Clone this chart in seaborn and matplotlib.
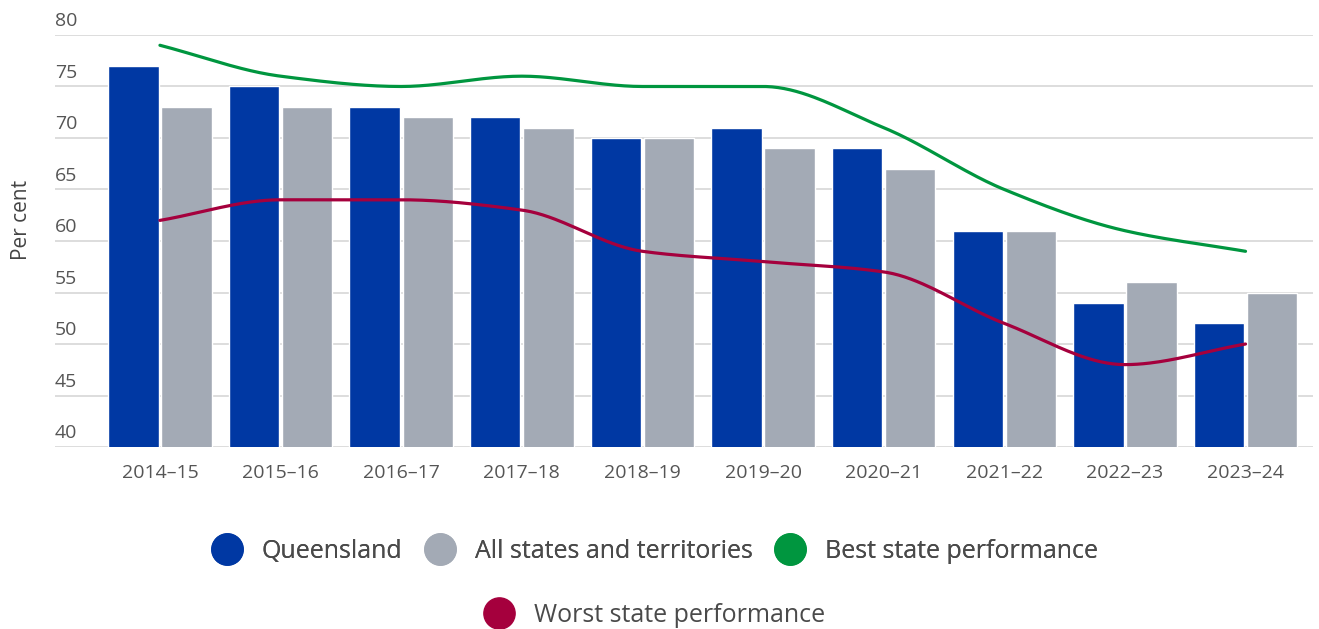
import numpy as np
import pandas as pd
import matplotlib
matplotlib.use("Agg")
import matplotlib.pyplot as plt
import seaborn as sns
from matplotlib.lines import Line2D

# Chart data
years = ["2014–15", "2015–16", "2016–17", "2017–18", "2018–19",
         "2019–20", "2020–21", "2021–22", "2022–23", "2023–24"]
queensland = [77, 75, 73, 72, 70, 71, 69, 61, 54, 52]
all_states = [73, 73, 72, 71, 70, 69, 67, 61, 56, 55]
best_state = [79, 76, 75, 76, 75, 75, 71, 65, 61, 59]
worst_state = [62, 64, 64, 63, 59, 58, 57, 52, 48, 50]
y_ticks = [40, 45, 50, 55, 60, 65, 70, 75, 80]

BLUE = "#0038a3"
GREY = "#a3aab5"
GREEN = "#00963f"
RED = "#a5003d"
TEXT = "#555555"


def smooth_curve(y, n=40):
    # monotone cubic (Fritsch-Carlson) path through the points, for drawing only
    y = np.asarray(y, dtype=float)
    x = np.arange(len(y), dtype=float)
    d = np.diff(y)
    m = np.zeros_like(y)
    m[0], m[-1] = d[0], d[-1]
    for i in range(1, len(y) - 1):
        if d[i - 1] * d[i] > 0:
            m[i] = 2 / (1 / d[i - 1] + 1 / d[i])
    xs, ys = [], []
    for i in range(len(y) - 1):
        t = np.linspace(0, 1, n, endpoint=(i == len(y) - 2))
        h00 = 2 * t**3 - 3 * t**2 + 1
        h10 = t**3 - 2 * t**2 + t
        h01 = -2 * t**3 + 3 * t**2
        h11 = t**3 - t**2
        xs.append(x[i] + t)
        ys.append(h00 * y[i] + h10 * m[i] + h01 * y[i + 1] + h11 * m[i + 1])
    return np.concatenate(xs), np.concatenate(ys)


df = pd.DataFrame({
    "year": years * 2,
    "value": queensland + all_states,
    "series": ["Queensland"] * len(years) + ["All states and territories"] * len(years),
})

sns.set_style("white")
plt.rcParams["font.family"] = ["Open Sans", "DejaVu Sans"]

fig = plt.figure(figsize=(13.19, 6.29), dpi=100)
ax = fig.add_axes([0.0417, 0.2893, 0.9538, 0.6551])

sns.barplot(data=df, x="year", y="value", hue="series",
            palette=[BLUE, GREY], width=0.88, gap=0.05,
            saturation=1, legend=False, ax=ax, zorder=2)

bx, by = smooth_curve(best_state)
wx, wy = smooth_curve(worst_state)
sns.lineplot(x=bx, y=by, color=GREEN, linewidth=2.3, ax=ax, zorder=3, sort=False)
sns.lineplot(x=wx, y=wy, color=RED, linewidth=2.3, ax=ax, zorder=3, sort=False)

ax.set_ylim(40, 80)
ax.set_xlim(-0.87, 9.56)
ax.set_yticks(y_ticks)
ax.set_yticklabels([])
ax.tick_params(axis="y", length=0)
ax.yaxis.grid(True, color="#dddddd", linewidth=1.4, zorder=0)
ax.set_axisbelow(True)
for s in ax.spines.values():
    s.set_visible(False)

# y tick labels sit above their gridlines
for v in y_ticks:
    ax.text(0.0, v + 0.45, str(v), transform=ax.get_yaxis_transform(),
            ha="left", va="bottom", fontsize=14, color=TEXT)

ax.set_xlabel("")
ax.set_ylabel("")
ax.tick_params(axis="x", length=0, pad=12, labelsize=14, labelcolor=TEXT)
fig.text(0.016, 0.65, "Per cent", rotation=90, ha="center", va="center",
         fontsize=15, color="#444444")

def dot(c):
    return Line2D([], [], marker="o", linestyle="none", markersize=22.5,
                  markerfacecolor=c, markeredgecolor=c)

leg1 = fig.legend([dot(BLUE), dot(GREY), dot(GREEN)],
                  ["Queensland", "All states and territories", "Best state performance"],
                  loc="center", bbox_to_anchor=(0.497, 0.124), ncol=3, frameon=False,
                  fontsize=18, handlelength=1.1, handletextpad=0.85, columnspacing=0.95,
                  labelcolor="#4a4a4a")
fig.add_artist(leg1)
fig.legend([dot(RED)], ["Worst state performance"],
           loc="center", bbox_to_anchor=(0.497, 0.022), frameon=False,
           fontsize=18, handlelength=1.1, handletextpad=0.85, labelcolor="#4a4a4a")

fig.savefig("out.png", dpi=100)
